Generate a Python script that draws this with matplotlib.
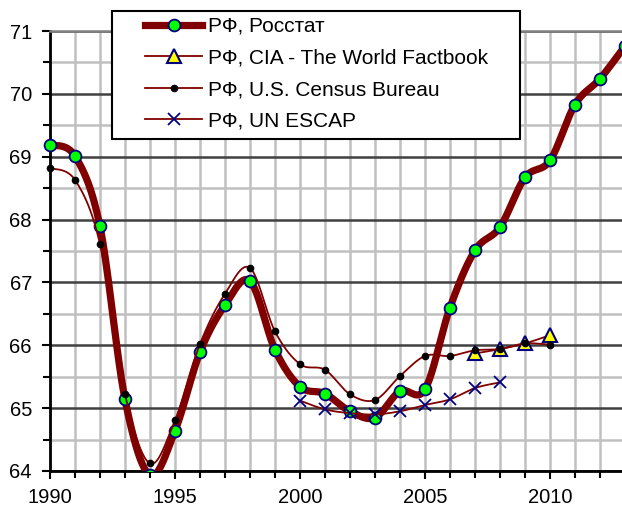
import matplotlib
matplotlib.use("Agg")
import matplotlib.pyplot as plt
from matplotlib.lines import Line2D
from matplotlib.patches import Rectangle
from matplotlib.ticker import MultipleLocator
import numpy as np

plt.rcParams['font.family'] = ['Liberation Sans', 'DejaVu Sans']

# life expectancy, Russia
years_rosstat = list(range(1990, 2014))
rosstat = [69.19, 69.01, 67.89, 65.14, 63.93, 64.64, 65.89, 66.64, 67.02, 65.93,
           65.34, 65.23, 64.95, 64.85, 65.27, 65.30, 66.60, 67.51, 67.88, 68.67,
           68.94, 69.83, 70.24, 70.76]

years_cia = [2007, 2008, 2009, 2010]
cia = [65.87, 65.94, 66.03, 66.16]

years_census = list(range(1990, 2011))
census = [68.82, 68.63, 67.61, 65.22, 64.12, 64.81, 66.02, 66.82, 67.23, 66.22,
          65.70, 65.61, 65.22, 65.13, 65.51, 65.83, 65.83, 65.92, 65.94, 66.03,
          66.01]

years_escap = list(range(2000, 2009))
escap = [65.12, 64.98, 64.92, 64.90, 64.95, 65.05, 65.14, 65.32, 65.41]

labels = ['РФ, Росстат', 'РФ, CIA - The World Factbook',
          'РФ, U.S. Census Bureau', 'РФ, UN ESCAP']


def smooth(x, y, n=24):
    # Catmull-Rom curve through the points, like Excel's smoothed line
    pts = np.column_stack([x, y]).astype(float)
    p = np.vstack([pts[0], pts, pts[-1]])
    t = np.linspace(0, 1, n)[:, None]
    out = []
    for i in range(len(pts) - 1):
        p0, p1, p2, p3 = p[i], p[i + 1], p[i + 2], p[i + 3]
        c = 0.5 * (2 * p1 + (-p0 + p2) * t + (2 * p0 - 5 * p1 + 4 * p2 - p3) * t ** 2
                   + (-p0 + 3 * p1 - 3 * p2 + p3) * t ** 3)
        out.append(c)
    c = np.vstack(out)
    return c[:, 0], c[:, 1]


red = '#800000'
navy = '#000080'

fig = plt.figure(figsize=(6.22, 5.07), dpi=100)
ax = fig.add_axes([50 / 622, 36 / 507, 575 / 622, 440 / 507])

# clip only top/bottom, let the edge markers spill sideways
clip = Rectangle((-0.05, 0), 1.1, 1.0, transform=ax.transAxes, visible=False)
ax.add_patch(clip)

sx, sy = smooth(years_rosstat, rosstat)
ax.plot(sx, sy, color=red, lw=5.2, zorder=3, solid_capstyle='round')
m = ax.plot(years_rosstat, rosstat, ls='none', marker='o', ms=8.5, mfc='#00ff00',
            mec=navy, mew=1.3, zorder=4)[0]
m.set_clip_path(clip)

sx, sy = smooth(years_cia, cia)
ax.plot(sx, sy, color=red, lw=1.3, zorder=5)
ax.plot(years_cia, cia, ls='none', marker='^', ms=10, mfc='#ffff00',
        mec=navy, mew=1.5, zorder=5)

sx, sy = smooth(years_census, census)
ax.plot(sx, sy, color=red, lw=1.3, zorder=6)
m = ax.plot(years_census, census, ls='none', marker='o', ms=4.5, mfc='black',
            mec='black', zorder=6)[0]
m.set_clip_path(clip)

sx, sy = smooth(years_escap, escap)
ax.plot(sx, sy, color=red, lw=1.3, zorder=7)
ax.plot(years_escap, escap, ls='none', marker='x', ms=9, mec=navy, mew=1.3,
        zorder=7)

ax.set_xlim(1990, 2013)
ax.set_ylim(64, 71)
ax.xaxis.set_major_locator(MultipleLocator(5))
ax.xaxis.set_minor_locator(MultipleLocator(1))
ax.yaxis.set_major_locator(MultipleLocator(1))
ax.yaxis.set_minor_locator(MultipleLocator(0.5))

ax.grid(which='minor', color='#c0c0c0', lw=1.8, zorder=0)
ax.grid(which='major', axis='x', color='#c0c0c0', lw=1.8, zorder=0)
ax.grid(which='major', axis='y', color='#404040', lw=1.8, zorder=0)
ax.set_axisbelow(True)

ax.spines['right'].set_visible(False)
ax.spines['top'].set_color('#808080')
ax.spines['top'].set_linewidth(1.8)
ax.spines['left'].set_linewidth(2)
ax.spines['bottom'].set_linewidth(2)

ax.tick_params(which='both', direction='out', width=1.5, labelsize=14.5)
ax.tick_params(which='major', length=6)
ax.tick_params(which='minor', length=5)
ax.tick_params(axis='y', pad=7)
ax.tick_params(axis='x', pad=6.5)

# legend box drawn by hand, Excel-style padding
fig.add_artist(Rectangle((112 / 622, 1 - 139 / 507), 408 / 622, 128 / 507,
                         transform=fig.transFigure, facecolor='white',
                         edgecolor='black', lw=1.5, zorder=4))

handles = [
    Line2D([], [], color=red, lw=5.2, marker='o', ms=8.5, mfc='#00ff00', mec=navy, mew=1.3),
    Line2D([], [], color=red, lw=1.3, marker='^', ms=10, mfc='#ffff00', mec=navy, mew=1.5),
    Line2D([], [], color=red, lw=1.3, marker='o', ms=4.5, mfc='black', mec='black'),
    Line2D([], [], color=red, lw=1.3, marker='x', ms=9, mec=navy, mew=1.3),
]
leg = fig.legend(handles, labels, loc='upper left',
                 bbox_to_anchor=(145 / 622, 1 - 17 / 507), fontsize=15,
                 numpoints=1, handlelength=2.75, handletextpad=0.25,
                 labelspacing=0.6, borderpad=0, frameon=False, borderaxespad=0)
leg.set_zorder(5)

fig.savefig('out.png', dpi=100)
